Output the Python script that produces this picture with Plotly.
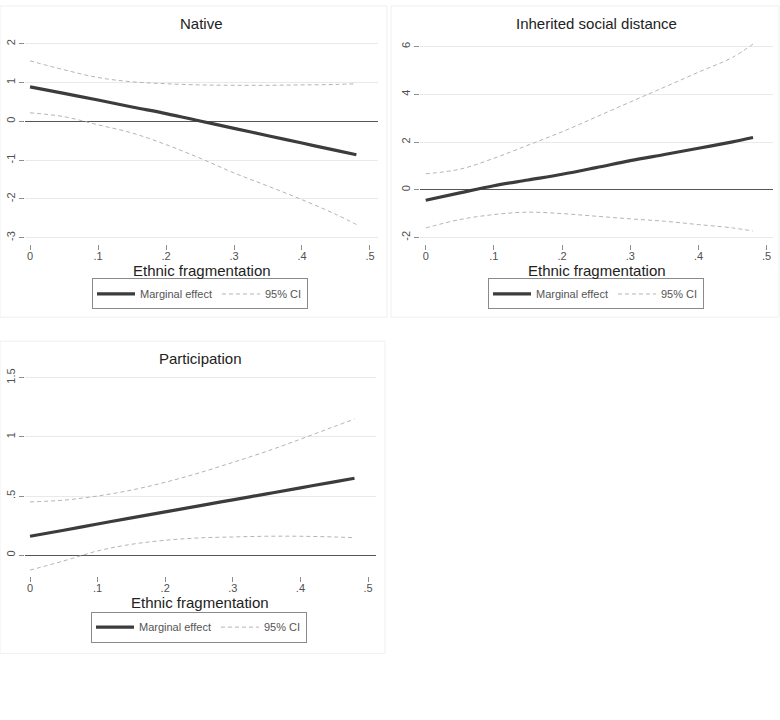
import plotly.graph_objects as go

W, H = 780, 720

# ---------------- data ----------------
frag = [0, 0.05, 0.1, 0.15, 0.2, 0.25, 0.3, 0.35, 0.4, 0.45, 0.48]

native_me = [0.89, 0.72, 0.55, 0.37, 0.20, 0.01, -0.18, -0.37, -0.56, -0.75, -0.86]
native_hi = [1.56, 1.33, 1.13, 1.02, 0.97, 0.94, 0.93, 0.93, 0.94, 0.95, 0.97]
native_lo = [0.22, 0.12, -0.09, -0.30, -0.60, -0.95, -1.33, -1.67, -2.02, -2.40, -2.66]

isd_me = [-0.44, -0.13, 0.17, 0.41, 0.65, 0.93, 1.22, 1.48, 1.74, 2.01, 2.19]
isd_hi = [0.67, 0.86, 1.32, 1.87, 2.43, 3.05, 3.68, 4.30, 4.93, 5.55, 6.11]
isd_lo = [-1.60, -1.25, -1.04, -0.94, -1.00, -1.11, -1.22, -1.32, -1.46, -1.60, -1.73]

part_me = [0.16, 0.211, 0.264, 0.315, 0.366, 0.417, 0.468, 0.518, 0.569, 0.62, 0.65]
part_hi = [0.45, 0.465, 0.50, 0.55, 0.616, 0.695, 0.784, 0.877, 0.98, 1.087, 1.15]
part_lo = [-0.126, -0.048, 0.036, 0.092, 0.126, 0.146, 0.154, 0.16, 0.16, 0.154, 0.148]

titles = ["Native", "Inherited social distance", "Participation"]
x_title = "Ethnic fragmentation"
x_tickvals = [0, 0.1, 0.2, 0.3, 0.4, 0.5]
x_ticktext = ["0", ".1", ".2", ".3", ".4", ".5"]
y_ticks = [
    ([-3, -2, -1, 0, 1, 2], ["-3", "-2", "-1", "0", "1", "2"]),
    ([-2, 0, 2, 4, 6], ["-2", "0", "2", "4", "6"]),
    ([0, 0.5, 1, 1.5], ["0", ".5", "1", "1.5"]),
]
series = [
    (native_me, native_hi, native_lo),
    (isd_me, isd_hi, isd_lo),
    (part_me, part_hi, part_lo),
]

# ---------------- layout geometry (pixels) ----------------
# plot areas: (left, right, top, bottom)
areas = [(25, 378, 34, 241), (420, 773, 34, 241), (25, 376, 370, 575)]
x_ranges = [[-0.0074, 0.5118], [-0.0084, 0.5093], [-0.0074, 0.5118]]
y_ranges = [[-3.154, 2.154], [-2.26, 6.37], [-0.174, 1.548]]
legend_pos = [(200, 276), (596, 276), (199, 611)]
panel_boxes = [(0, 387, 2, 315), (391, 779, 2, 315), (0, 385, 339, 653)]

def px(x):
    return x / W

def py(y):
    return 1 - y / H

ME_COLOR = "#3c3c3c"
CI_COLOR = "#b4b4b4"
GRID = "#e9e9e9"

fig = go.Figure()
layout = dict(
    width=W, height=H,
    margin=dict(l=0, r=0, t=0, b=0),
    paper_bgcolor="white", plot_bgcolor="white",
    font=dict(family="Liberation Sans, Arial", color="#333333"),
    annotations=[], shapes=[],
)

for i in range(3):
    n = "" if i == 0 else str(i + 1)
    xa, ya = "x" + n, "y" + n
    lg = "legend" + n
    me, hi, lo = series[i]
    l, r, t, b = areas[i]

    fig.add_trace(go.Scatter(x=frag, y=me, mode="lines", name="Marginal effect",
                             line=dict(color=ME_COLOR, width=3.2, shape="spline"),
                             xaxis=xa, yaxis=ya, legend=lg))
    fig.add_trace(go.Scatter(x=frag, y=hi, mode="lines", name="95% CI",
                             line=dict(color=CI_COLOR, width=1, dash="4px,3px", shape="spline"),
                             xaxis=xa, yaxis=ya, legend=lg, legendgroup="ci" + n))
    fig.add_trace(go.Scatter(x=frag, y=lo, mode="lines", name="95% CI",
                             line=dict(color=CI_COLOR, width=1, dash="4px,3px", shape="spline"),
                             xaxis=xa, yaxis=ya, legend=lg, legendgroup="ci" + n,
                             showlegend=False))

    layout["xaxis" + n] = dict(
        domain=[px(l), px(r)], range=x_ranges[i], anchor=ya,
        tickvals=x_tickvals, ticktext=x_ticktext,
        ticks="outside", ticklen=5, tickcolor="#8c8c8c", tickwidth=1,
        ticklabelstandoff=-3,
        showgrid=False, zeroline=False, showline=False,
        tickfont=dict(size=11, color="#505050"), fixedrange=True,
    )
    layout["yaxis" + n] = dict(
        domain=[py(b), py(t)], range=y_ranges[i], anchor=xa,
        tickvals=y_ticks[i][0], ticktext=y_ticks[i][1], tickangle=-90,
        ticks="outside", ticklen=5, tickcolor="#8c8c8c", tickwidth=1,
        showgrid=True, gridcolor=GRID, gridwidth=1,
        zeroline=True, zerolinecolor="#555555", zerolinewidth=1.3,
        showline=False, tickfont=dict(size=11, color="#505050"), fixedrange=True,
    )
    lx, ly = legend_pos[i]
    layout[lg] = dict(
        x=px(lx), y=py(ly), xanchor="center", yanchor="top",
        orientation="h", bordercolor="#8a8a8a", borderwidth=1,
        bgcolor="white", font=dict(size=11, color="#555555"),
        itemwidth=38, tracegroupgap=0,
    )
    cx = (l + r) / 2
    layout["annotations"].append(dict(
        text=titles[i], x=px(cx), y=py(t - 14), xref="paper", yref="paper",
        showarrow=False, font=dict(size=15, color="#222222"),
        xanchor="center", yanchor="middle"))
    layout["annotations"].append(dict(
        text=x_title, x=px(cx), y=py(b + 27), xref="paper", yref="paper",
        showarrow=False, font=dict(size=15, color="#222222"),
        xanchor="center", yanchor="middle"))
    x0, x1, y0, y1 = panel_boxes[i]
    layout["shapes"].append(dict(
        type="rect", xref="paper", yref="paper",
        x0=px(x0), x1=px(x1), y0=py(y1), y1=py(y0),
        line=dict(color="#efefef", width=1), layer="below"))

fig.update_layout(**layout)
fig.write_html("out.html")
